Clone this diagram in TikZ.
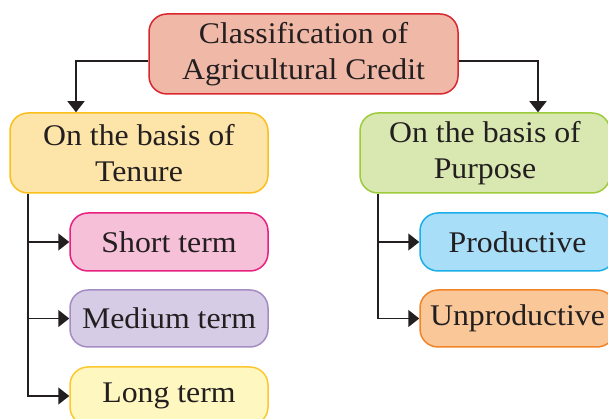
\documentclass[tikz,border=0pt]{standalone}
\usepackage{fontspec}
\setmainfont{Liberation Serif}[FakeStretch=1.06]
\usetikzlibrary{arrows.meta}
\definecolor{lineC}{HTML}{231F20}
\definecolor{topF}{HTML}{F0B8A6}\definecolor{topD}{HTML}{D9262F}
\definecolor{tenF}{HTML}{FDE4A8}\definecolor{tenD}{HTML}{FBBF1E}
\definecolor{purF}{HTML}{D8E8B0}\definecolor{purD}{HTML}{9CCB3B}
\definecolor{shF}{HTML}{F5C0D8}\definecolor{shD}{HTML}{E8207F}
\definecolor{meF}{HTML}{D6CCE5}\definecolor{meD}{HTML}{A48CC4}
\definecolor{loF}{HTML}{FEF7C0}\definecolor{loD}{HTML}{FDC72F}
\definecolor{prF}{HTML}{A8DEF7}\definecolor{prD}{HTML}{1BAEE8}
\definecolor{unF}{HTML}{FAC898}\definecolor{unD}{HTML}{F28428}
\begin{document}
\begin{tikzpicture}[x=1pt,y=-1pt,
  box/.style={draw, line width=1.5pt, rounded corners=18pt, align=center,
    inner sep=0pt, font=\fontsize{30}{36.5}\selectfont, text=lineC},
  arr/.style={draw=lineC, line width=1.5pt, -{Triangle[length=11pt,width=17pt]}}]
\useasboundingbox (0,0) rectangle (608,419);
\begin{scope}
\clip (0,0) rectangle (608,419);
\node[box, fill=topF, draw=topD, minimum width=309pt, minimum height=80pt] (top) at (303.5,54) {Classification of\\Agricultural Credit};
\node[box, fill=tenF, draw=tenD, minimum width=258pt, minimum height=80pt] (ten) at (139,153) {On the basis of\\Tenure};
\node[box, fill=purF, draw=purD, minimum width=250pt, minimum height=80pt] (pur) at (485,153) {On the basis of\\Purpose};
\node[box, fill=shF, draw=shD, minimum width=198pt, minimum height=58pt] (sh) at (169,242) {Short term};
\node[box, fill=meF, draw=meD, minimum width=198pt, minimum height=57pt] (me) at (169,318.5) {Medium term};
\node[box, fill=loF, draw=loD, minimum width=198pt, minimum height=58pt] (lo) at (169,396) {Long term};
\node[box, fill=prF, draw=prD, minimum width=195pt, minimum height=58pt] (pr) at (517.5,242) {Productive};
\node[box, fill=unF, draw=unD, minimum width=195pt, minimum height=57pt] (un) at (517.5,318.5) {Unproductive};
\end{scope}
\draw[arr] ([yshift=-7pt]top.west) -| ([xshift=-63pt]ten.north);
\draw[arr] ([yshift=-7pt]top.east) -| ([xshift=53pt]pur.north);
\coordinate (tl) at ([xshift=-111pt]ten.south);
\coordinate (tr) at ([xshift=-107pt]pur.south);
\draw[arr] (tl) |- (sh.west);
\draw[arr] (tl) |- (me.west);
\draw[arr] (tl) |- (lo.west);
\draw[arr] (tr) |- (pr.west);
\draw[arr] (tr) |- (un.west);
\end{tikzpicture}
\end{document}
